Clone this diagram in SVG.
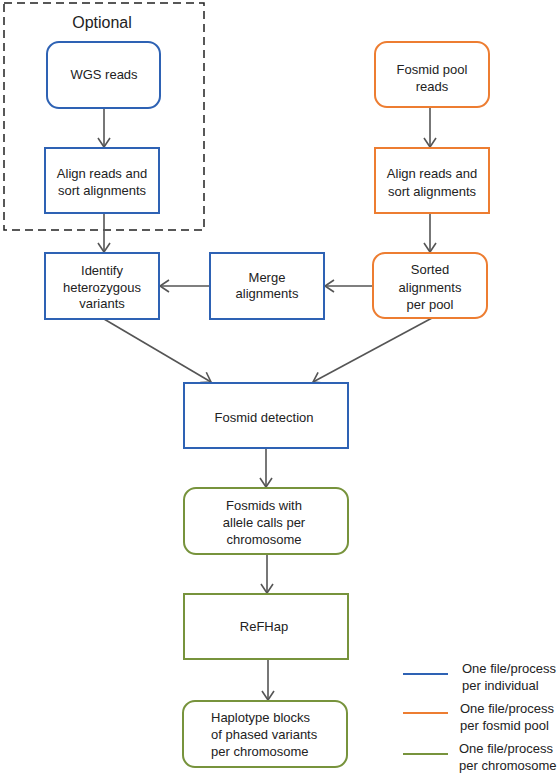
<svg xmlns="http://www.w3.org/2000/svg" width="560" height="776" viewBox="0 0 560 776">
<defs>
<marker id="arr" markerWidth="14" markerHeight="14" viewBox="-12 -7 14 14" refX="0" refY="0" orient="auto" markerUnits="userSpaceOnUse">
<polyline points="-9,-6 0,0 -9,6" fill="none" stroke="#555" stroke-width="1.6"/>
</marker>
<style>
.t{font-family:"Liberation Sans",Arial,sans-serif;font-size:13px;fill:#222;text-anchor:middle}
.tl{font-family:"Liberation Sans",Arial,sans-serif;font-size:13px;fill:#222}
.b{fill:#fff;stroke:#2E62B4;stroke-width:2}
.o{fill:#fff;stroke:#ED7D31;stroke-width:2}
.g{fill:#fff;stroke:#77933C;stroke-width:2}
.c{stroke:#555;stroke-width:1.6;fill:none;marker-end:url(#arr)}
</style>
</defs>
<rect width="560" height="776" fill="#fff"/>
<g id="optional">
<rect x="4" y="3" width="200" height="227" fill="none" stroke="#222" stroke-width="1.5" stroke-dasharray="8,5"/>
<text x="102" y="28" class="t" style="font-size:16px">Optional</text>
</g>
<g id="connectors">
<line x1="104" y1="108" x2="104" y2="147" class="c"/>
<line x1="104" y1="213" x2="104" y2="252" class="c"/>
<line x1="430" y1="107" x2="430" y2="147" class="c"/>
<line x1="430" y1="213" x2="430" y2="252" class="c"/>
<line x1="373" y1="286" x2="325" y2="286" class="c"/>
<line x1="210" y1="286" x2="160" y2="286" class="c"/>
<line x1="104" y1="319" x2="211" y2="382" class="c"/>
<line x1="432" y1="318" x2="313" y2="382" class="c"/>
<line x1="266" y1="448" x2="266" y2="487" class="c"/>
<line x1="267" y1="554" x2="267" y2="593" class="c"/>
<line x1="268" y1="659" x2="268" y2="700" class="c"/>
</g>
<g id="wgs">
<rect x="47" y="42" width="113" height="66" rx="12" class="b"/>
<text x="104" y="79" class="t">WGS reads</text>
</g>
<g id="align1">
<rect x="45" y="148" width="114" height="65" class="b"/>
<text x="102" y="178" class="t">Align reads and</text>
<text x="102" y="195" class="t">sort alignments</text>
</g>
<g id="fosmidpool">
<rect x="375" y="42" width="114" height="65" rx="12" class="o"/>
<text x="432" y="74" class="t">Fosmid pool</text>
<text x="432" y="91" class="t">reads</text>
</g>
<g id="align2">
<rect x="375" y="148" width="114" height="65" class="o"/>
<text x="432" y="178" class="t">Align reads and</text>
<text x="432" y="196" class="t">sort alignments</text>
</g>
<g id="sorted">
<rect x="373" y="253" width="114" height="65" rx="12" class="o"/>
<text x="430" y="274" class="t">Sorted</text>
<text x="430" y="292" class="t">alignments</text>
<text x="430" y="309" class="t">per pool</text>
</g>
<g id="identify">
<rect x="45" y="253" width="114" height="66" class="b"/>
<text x="102" y="275" class="t">Identify</text>
<text x="102" y="292" class="t">heterozygous</text>
<text x="102" y="308" class="t">variants</text>
</g>
<g id="merge">
<rect x="210" y="253" width="114" height="66" class="b"/>
<text x="267" y="282" class="t">Merge</text>
<text x="267" y="298" class="t">alignments</text>
</g>
<g id="detection">
<rect x="184" y="383" width="164" height="65" class="b"/>
<text x="264" y="422" class="t">Fosmid detection</text>
</g>
<g id="fosmids">
<rect x="184" y="488" width="164" height="66" rx="12" class="g"/>
<text x="264" y="510" class="t">Fosmids with</text>
<text x="264" y="527" class="t">allele calls per</text>
<text x="264" y="544" class="t">chromosome</text>
</g>
<g id="refhap">
<rect x="184" y="594" width="164" height="65" class="g"/>
<text x="264" y="631" class="t">ReFHap</text>
</g>
<g id="haplotype">
<rect x="183" y="701" width="164" height="66" rx="12" class="g"/>
<text x="211" y="722" class="tl">Haplotype blocks</text>
<text x="211" y="739" class="tl">of phased variants</text>
<text x="211" y="756" class="tl">per chromosome</text>
</g>
<g id="legend">
<line x1="403" y1="674" x2="448" y2="674" stroke="#2E62B4" stroke-width="2"/>
<text x="462" y="673" class="tl">One file/process</text>
<text x="462" y="690" class="tl">per individual</text>
<line x1="403" y1="713" x2="448" y2="713" stroke="#ED7D31" stroke-width="2"/>
<text x="460" y="713" class="tl">One file/process</text>
<text x="460" y="730" class="tl">per fosmid pool</text>
<line x1="403" y1="754" x2="448" y2="754" stroke="#77933C" stroke-width="2"/>
<text x="459" y="753" class="tl">One file/process</text>
<text x="459" y="770" class="tl">per chromosome</text>
</g>
</svg>
